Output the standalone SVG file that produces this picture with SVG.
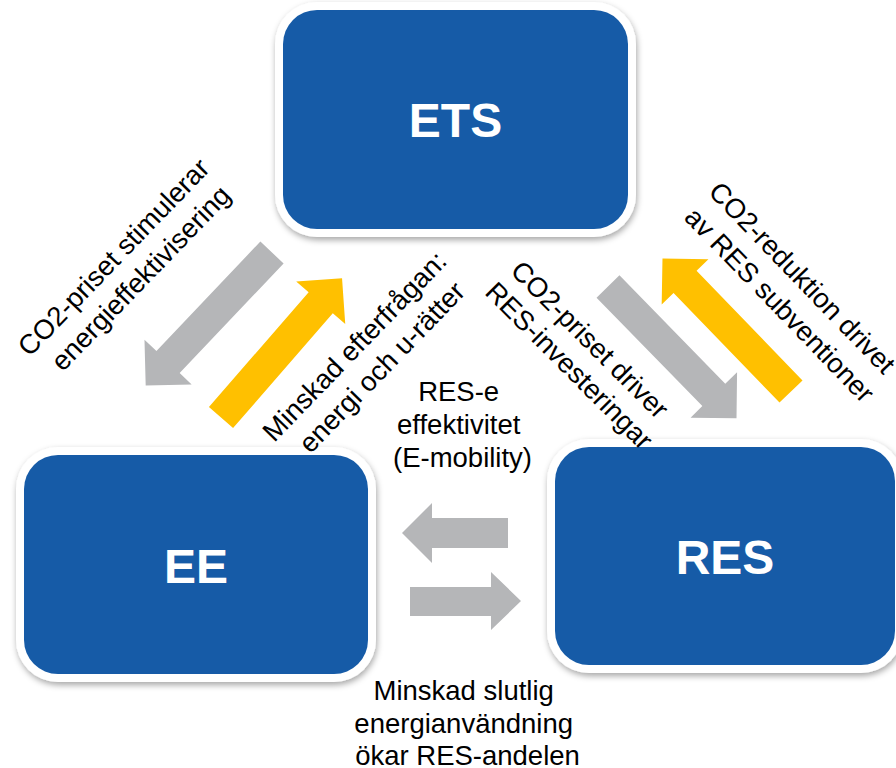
<svg xmlns="http://www.w3.org/2000/svg" width="896" height="768" viewBox="0 0 896 768">
  <defs>
    <filter id="shadow" x="-10%" y="-10%" width="120%" height="130%">
      <feDropShadow dx="1" dy="3" stdDeviation="3" flood-color="#000" flood-opacity="0.35"/>
    </filter>
    <style>
      .frame { fill: #ffffff; filter: url(#shadow); }
      .box { fill: #165BA7; }
      .title { font-family: "Liberation Sans", Arial, sans-serif; font-weight: bold; font-size: 48px; fill: #ffffff; text-anchor: middle; }
      .label { font-family: "Liberation Sans", Arial, sans-serif; font-size: 27.5px; fill: #000000; text-anchor: middle; }
      .gray { fill: #B5B6B8; }
      .yellow { fill: #FFC000; }
    </style>
  </defs>
  <rect x="0" y="0" width="896" height="768" fill="#ffffff"/>

  <g id="node-ets">
    <rect class="frame" x="275" y="2" width="361" height="235" rx="42"/>
    <rect class="box" x="283" y="10" width="345" height="219" rx="34"/>
    <text class="title" x="455.5" y="137">ETS</text>
  </g>

  <g id="node-ee">
    <rect class="frame" x="16" y="447" width="360" height="235" rx="42"/>
    <rect class="box" x="24" y="455" width="344" height="219" rx="34"/>
    <text class="title" x="196" y="583">EE</text>
  </g>

  <g id="node-res">
    <rect class="frame" x="547" y="439" width="356" height="234" rx="42"/>
    <rect class="box" x="555" y="447" width="340" height="218" rx="34"/>
    <text class="title" x="725" y="574">RES</text>
  </g>

  <g id="connectors">
    <polygon class="gray" transform="translate(272 252.5) rotate(133.5)" points="0,-16 151,-16 151,-32.5 183.5,0 151,32.5 151,16 0,16"/>
    <polygon class="yellow" transform="translate(221 417.5) rotate(-49)" points="0,-16 152,-16 152,-32.5 184.5,0 152,32.5 152,16 0,16"/>
    <polygon class="gray" transform="translate(608 286.5) rotate(45.7)" points="0,-16 151.5,-16 151.5,-32.5 184,0 151.5,32.5 151.5,16 0,16"/>
    <polygon class="yellow" transform="translate(791 391.5) rotate(-134)" points="0,-16 152.5,-16 152.5,-32.5 185,0 152.5,32.5 152.5,16 0,16"/>
    <polygon class="gray" points="508,518 432,518 432,503 402,533 432,563 432,548 508,548"/>
    <polygon class="gray" points="410,587 491,587 491,572 521,601 491,630 491,616 410,616"/>
  </g>

  <g id="labels">
    <text class="label" transform="translate(123 261) rotate(-46)">
      <tspan x="0" y="0">CO2-priset stimulerar</tspan>
      <tspan x="0" y="34">energieffektivisering</tspan>
    </text>
    <text class="label" transform="translate(364 350) rotate(-46)">
      <tspan x="0" y="0">Minskad efterfrågan:</tspan>
      <tspan x="0" y="34">energi och u-rätter</tspan>
    </text>
    <text class="label" transform="translate(586 349) rotate(45)">
      <tspan x="0" y="0">CO2-priset driver</tspan>
      <tspan x="0" y="33">RES-investeringar</tspan>
    </text>
    <text class="label" transform="translate(798 287) rotate(46)">
      <tspan x="0" y="0">CO2-reduktion drivet</tspan>
      <tspan x="0" y="35">av RES subventioner</tspan>
    </text>
    <text class="label">
      <tspan x="462.5" y="400.5">RES-e</tspan>
      <tspan x="462.5" y="434">effektivitet</tspan>
      <tspan x="462.5" y="467">(E-mobility)</tspan>
    </text>
    <text class="label">
      <tspan x="467.5" y="700">Minskad slutlig</tspan>
      <tspan x="467.5" y="732.5">energianvändning</tspan>
      <tspan x="467.5" y="764.5">ökar RES-andelen</tspan>
    </text>
  </g>
</svg>
